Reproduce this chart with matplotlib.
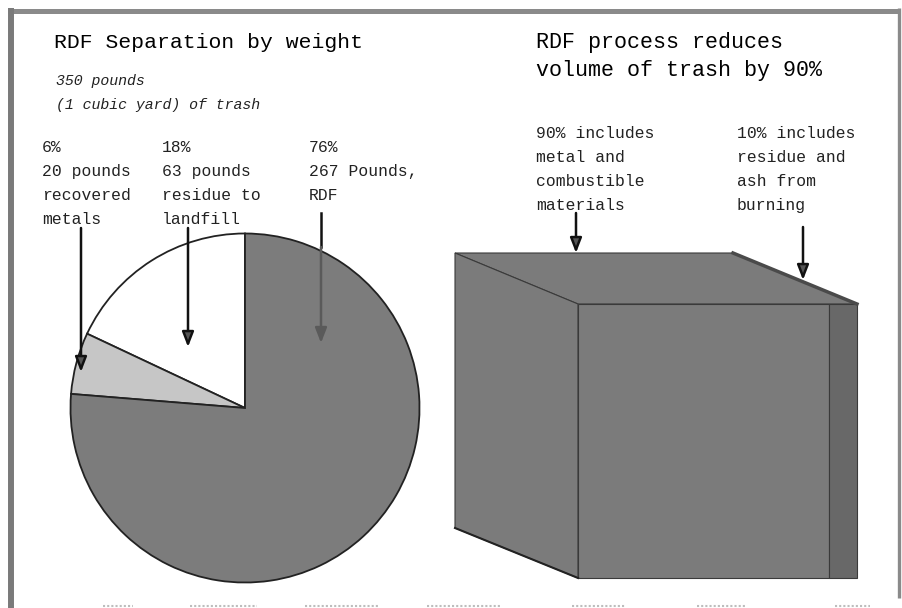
import matplotlib
matplotlib.use("Agg")
import matplotlib.pyplot as plt
from matplotlib.patches import Polygon

# ---- data ----
pie_labels = ["residue to landfill", "recovered metals", "RDF"]
pie_pounds = [63, 20, 267]          # out of 350 pounds of trash
pie_colors = ["#ffffff", "#c6c6c6", "#7c7c7c"]

volume_labels = ["metal and combustible materials", "residue and ash from burning"]
volume_share = [90, 10]

left_title = "RDF Separation by weight"
left_sub = ["350 pounds", "(1 cubic yard) of trash"]
left_notes = [
    ["6%", "20 pounds", "recovered", "metals"],
    ["18%", "63 pounds", "residue to", "landfill"],
    ["76%", "267 Pounds,", "RDF"],
]
right_title = ["RDF process reduces", "volume of trash by 90%"]
right_notes = [
    ["90% includes", "metal and", "combustible", "materials"],
    ["10% includes", "residue and", "ash from", "burning"],
]

W, H = 903, 608
fig = plt.figure(figsize=(W / 100, H / 100), dpi=100)
fig.patch.set_facecolor("white")

# ---- pie (own axes, centred at pixel (245, 408), radius 178) ----
cx, cy, r = 245, 408, 178
pax = fig.add_axes([(cx - r) / W, (H - cy - r) / H, 2 * r / W, 2 * r / H])
pax.pie(pie_pounds, colors=pie_colors, startangle=90, counterclock=True,
        radius=1.0,
        wedgeprops=dict(edgecolor="#222222", linewidth=1.3))
pax.set_xlim(-1.02, 1.02)
pax.set_ylim(-1.02, 1.02)
pax.set_aspect("equal")
pax.axis("off")

# ---- overlay in pixel units ----
ax = fig.add_axes([0, 0, 1, 1])
ax.set_xlim(0, W)
ax.set_ylim(H, 0)
ax.axis("off")
ax.patch.set_alpha(0)

mono = "Liberation Mono"

# frame
ax.plot([8, 900], [10.5, 10.5], color="#8a8a8a", lw=3.6, solid_capstyle="butt")
ax.plot([11, 11], [8, 608], color="#7a7a7a", lw=4.3, solid_capstyle="butt")
ax.plot([899, 899], [8, 598], color="#8a8a8a", lw=2.4, solid_capstyle="butt")
for x0, x1 in [(103, 133), (190, 257), (305, 378), (427, 502), (572, 625),
               (697, 747), (835, 870)]:
    ax.plot([x0, x1], [606, 606], color="#bdbdbd", lw=1.5, ls=(0, (1, 1)))

# left texts
ax.text(54, 48, left_title, fontfamily=mono, fontsize=15.4, va="baseline")
for i, s in enumerate(left_sub):
    ax.text(56, 85 + 23.5 * i, s, fontfamily=mono, fontstyle="italic",
            fontsize=10.7, va="baseline", color="#222222")
for xc, lines in zip([42, 162, 309], left_notes):
    for i, s in enumerate(lines):
        ax.text(xc, 152 + 24 * i, s, fontfamily=mono, fontsize=11.8,
                va="baseline", color="#222222")

# right texts
for i, s in enumerate(right_title):
    ax.text(536, 48 + 28 * i, s, fontfamily=mono, fontsize=15.6, va="baseline")
for xc, lines in zip([536, 737], right_notes):
    for i, s in enumerate(lines):
        ax.text(xc, 138 + 24 * i, s, fontfamily=mono, fontsize=11.8,
                va="baseline", color="#222222")


def arrow(x, y0, y1, color="#111111", head="#555555"):
    ax.annotate("", xy=(x, y1), xytext=(x, y0),
                arrowprops=dict(arrowstyle="-|>,head_length=0.9,head_width=0.35",
                                color=color, lw=1.8, fc=head, ec=color,
                                shrinkA=0, shrinkB=0))


# pie pointers
arrow(81, 228, 372)
arrow(188, 228, 347)
ax.plot([321, 321], [213, 247], color="#111111", lw=1.8)
arrow(321, 247, 343, color="#5a5a5a", head="#5a5a5a")

# ---- cube ----
x_left, x_front, x_right = 455, 578, 857
y_top, y_front, y_bot, y_lb = 253, 304, 578, 528
x_topr = 733
x_split = x_front + (x_right - x_front) * volume_share[0] / sum(volume_share)

cube_gray = "#7b7b7b"
edge = "#3a3a3a"
top_face = Polygon([(x_left, y_top), (x_topr, y_top), (x_right, y_front),
                    (x_front, y_front)], closed=True, fc=cube_gray, ec=edge, lw=0.8)
left_face = Polygon([(x_left, y_top), (x_front, y_front), (x_front, y_bot),
                     (x_left, y_lb)], closed=True, fc=cube_gray, ec=edge, lw=0.8)
front_face = Polygon([(x_front, y_front), (x_split, y_front), (x_split, y_bot),
                      (x_front, y_bot)], closed=True, fc=cube_gray, ec=edge, lw=0.8)
right_part = Polygon([(x_split, y_front), (x_right, y_front), (x_right, y_bot),
                      (x_split, y_bot)], closed=True, fc="#686868", ec=edge, lw=0.8)
for p in (top_face, left_face, front_face, right_part):
    ax.add_patch(p)
# darker sloped rim
ax.plot([x_topr, x_right], [y_top, y_front], color="#4a4a4a", lw=2.5)
ax.plot([x_left, x_front], [y_lb, y_bot], color="#222222", lw=1.5)

# cube pointers
arrow(576, 213, 253)
arrow(803, 227, 280)

fig.savefig("out.png", dpi=100, facecolor="white")
